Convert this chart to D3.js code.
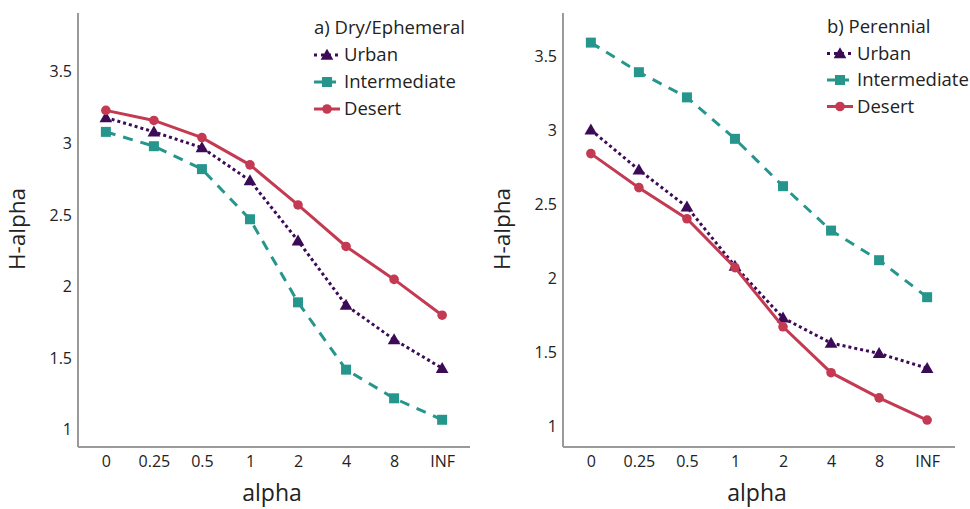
<!DOCTYPE html>
<html>
<head>
<meta charset="utf-8">
<script src="https://cdn.jsdelivr.net/npm/d3@7"></script>
<style>
  body { margin: 0; background: #fff; }
  text { font-family: "Open Sans", "Noto Sans", sans-serif; fill: #222; }
</style>
</head>
<body>
<div id="chart"></div>
<script>
// alpha values on the x axis
let alphas = ['0', '0.25', '0.5', '1', '2', '4', '8', 'INF']
let seriesNames = ['Urban', 'Intermediate', 'Desert']
let yTicks = [1, 1.5, 2, 2.5, 3, 3.5]

// a) Dry/Ephemeral
let dryUrban        = [3.18, 3.08, 2.97, 2.74, 2.32, 1.87, 1.63, 1.43]
let dryIntermediate = [3.08, 2.98, 2.82, 2.47, 1.89, 1.42, 1.22, 1.07]
let dryDesert       = [3.23, 3.16, 3.04, 2.85, 2.57, 2.28, 2.05, 1.80]

// b) Perennial
let perUrban        = [3.00, 2.73, 2.48, 2.08, 1.73, 1.56, 1.49, 1.39]
let perIntermediate = [3.59, 3.39, 3.22, 2.94, 2.62, 2.32, 2.12, 1.87]
let perDesert       = [2.84, 2.61, 2.40, 2.07, 1.67, 1.36, 1.19, 1.04]

let colors = { Urban: '#3c0b58', Intermediate: '#26968d', Desert: '#c33a52' }
let dashes = { Urban: '3,3', Intermediate: '10,8', Desert: null }

let panels = [
  { title: 'a) Dry/Ephemeral', data: [dryUrban, dryIntermediate, dryDesert],
    x0: 78, x1: 470, yDomain: [0.88, 3.91], legendX: 314, legendY: 28, legendGap: 27, ytitleX: 18 },
  { title: 'b) Perennial', data: [perUrban, perIntermediate, perDesert],
    x0: 563, x1: 955, yDomain: [0.858, 3.79], legendX: 827, legendY: 27, legendGap: 26.5, ytitleX: 503 }
]

let width = 970, height = 509
let plotTop = 13, plotBottom = 447

let svg = d3.select('#chart').append('svg')
  .attr('width', width)
  .attr('height', height)

function drawMarker(g, name, cx, cy) {
  if (name === 'Desert') {
    g.append('circle').attr('cx', cx).attr('cy', cy).attr('r', 4.8)
      .attr('fill', colors[name])
  } else if (name === 'Intermediate') {
    g.append('rect').attr('x', cx - 5).attr('y', cy - 5)
      .attr('width', 10).attr('height', 10).attr('fill', colors[name])
  } else {
    g.append('path')
      .attr('d', d3.symbol().type(d3.symbolTriangle).size(70)())
      .attr('transform', `translate(${cx},${cy + 1})`)
      .attr('fill', colors[name])
  }
}

panels.forEach(p => {
  let x = d3.scalePoint().domain(alphas).range([p.x0, p.x1]).padding(0.58)
  let y = d3.scaleLinear().domain(p.yDomain).range([plotBottom, plotTop])

  let g = svg.append('g')

  // axes
  let xAxis = g.append('g').attr('transform', `translate(0,${plotBottom})`)
    .call(d3.axisBottom(x).tickSize(0).tickPadding(9))
  let yAxis = g.append('g').attr('transform', `translate(${p.x0},0)`)
    .call(d3.axisLeft(y).tickValues(yTicks).tickSize(0).tickPadding(6).tickFormat(d3.format('')))
  ;[xAxis, yAxis].forEach(a => {
    a.select('.domain').attr('stroke', '#9a9a9a').attr('stroke-width', 2)
    a.selectAll('text').style('font-size', '16px').attr('fill', '#222')
  })
  xAxis.select('.domain').attr('d', `M${p.x0},0H${p.x1}`)
  yAxis.select('.domain').attr('d', `M0,${plotTop}V${plotBottom}`)

  // axis titles
  g.append('text')
    .attr('x', (p.x0 + p.x1) / 2 - 2).attr('y', 501)
    .attr('text-anchor', 'middle').style('font-size', '23px')
    .text('alpha')
  g.append('text')
    .attr('transform', `translate(${p.ytitleX + 7},229) rotate(-90)`)
    .attr('text-anchor', 'middle').style('font-size', '22.5px')
    .text('H-alpha')

  // lines + markers
  let line = d3.line().x((d, i) => x(alphas[i])).y(d => y(d))
  seriesNames.forEach((name, k) => {
    let vals = p.data[k]
    g.append('path').datum(vals)
      .attr('d', line)
      .attr('fill', 'none')
      .attr('stroke', colors[name])
      .attr('stroke-width', 3)
      .attr('stroke-dasharray', dashes[name])
    vals.forEach((v, i) => drawMarker(g, name, x(alphas[i]), y(v)))
  })

  // legend
  let lg = g.append('g')
  lg.append('text').attr('x', p.legendX).attr('y', p.legendY)
    .attr('dy', '0.35em').style('font-size', '18.5px').text(p.title)
  seriesNames.forEach((name, k) => {
    let ly = p.legendY + p.legendGap * (k + 1)
    lg.append('line')
      .attr('x1', p.legendX).attr('x2', p.legendX + 26)
      .attr('y1', ly).attr('y2', ly)
      .attr('stroke', colors[name]).attr('stroke-width', 3)
      .attr('stroke-dasharray', name === 'Urban' ? '3,4' : name === 'Intermediate' ? '9,4' : null)
    drawMarker(lg, name, p.legendX + 13, ly)
    lg.append('text').attr('x', p.legendX + 30).attr('y', ly)
      .attr('dy', '0.35em').style('font-size', '18.5px').text(name)
  })
})
</script>
</body>
</html>
